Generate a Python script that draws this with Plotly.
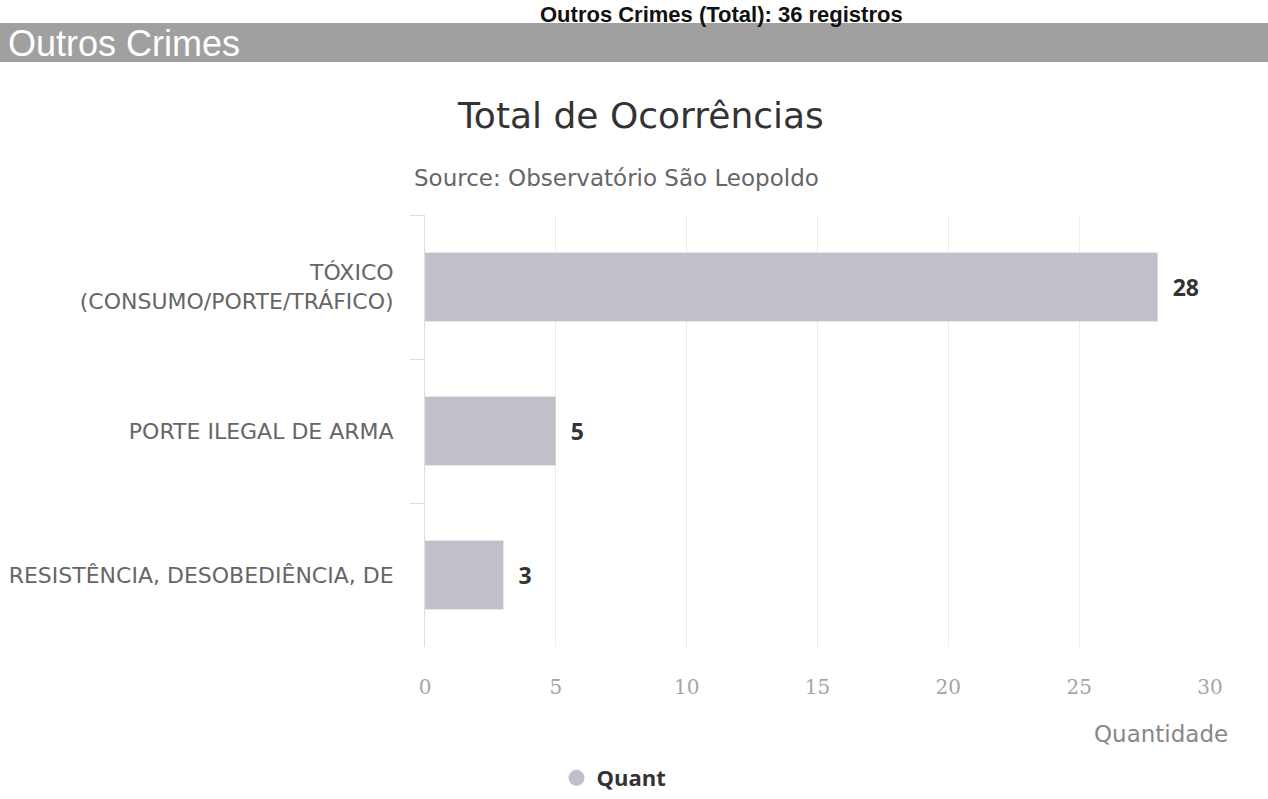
"""Outros Crimes - total de ocorrências (horizontal bar chart)."""

import plotly.graph_objects as go

categorias = [
    "TÓXICO<br>(CONSUMO/PORTE/TRÁFICO)",
    "PORTE ILEGAL DE ARMA",
    "RESISTÊNCIA, DESOBEDIÊNCIA, DE",
]
quantidades = [28, 5, 3]
x_ticks = [0, 5, 10, 15, 20, 25, 30]

W, H = 1268, 799
L, R, T, B = 425, 58, 215, 152
PW, PH = W - L - R, H - T - B


def px_x(x):
    return (x - L) / PW


def px_y(y):
    return (H - B - y) / PH


BAR = "#bfc0c8"
NBSP = "\u00a0"

fig = go.Figure()
fig.add_trace(
    go.Bar(
        x=quantidades,
        y=categorias,
        orientation="h",
        marker={"color": BAR},
        text=quantidades,
        textposition="outside",
        textfont={"family": "Open Sans", "size": 23, "color": "#333333"},
        texttemplate=NBSP * 2 + "<b>%{text}</b>",
        cliponaxis=False,
        showlegend=False,
        name="Quant",
    )
)
# legend entry with a round symbol, like the original
fig.add_trace(
    go.Scatter(
        x=[None],
        y=[None],
        mode="markers",
        marker={"symbol": "circle", "size": 18, "color": BAR},
        name="<b>Quant</b>",
    )
)

fig.update_layout(
    width=W,
    height=H,
    margin={"l": L, "r": R, "t": T, "b": B, "autoexpand": False},
    paper_bgcolor="white",
    plot_bgcolor="white",
    bargap=0.52,
    font={"family": "Open Sans", "color": "#666666"},
    showlegend=True,
    legend={
        "orientation": "h",
        "x": px_x(614),
        "xanchor": "center",
        "y": px_y(778),
        "yanchor": "middle",
        "font": {"family": "Open Sans", "size": 22, "color": "#333333"},
    },
    xaxis={
        "range": [0, 30],
        "tickvals": x_ticks,
        "showgrid": True,
        "gridcolor": "#ededed",
        "zeroline": False,
        "showline": False,
        "ticklabelstandoff": 26,
        "tickfont": {"family": "DejaVu Serif", "size": 20, "color": "#a5a5a5"},
    },
    yaxis={
        "autorange": "reversed",
        "showline": True,
        "linecolor": "#dddddd",
        "ticks": "outside",
        "tickson": "boundaries",
        "ticklen": 14,
        "tickcolor": "#dddddd",
        "ticklabelstandoff": 26,
        "tickfont": {"family": "DejaVu Sans", "size": 22, "color": "#666666"},
    },
    shapes=[
        {
            "type": "rect",
            "xref": "paper",
            "yref": "paper",
            "x0": px_x(0),
            "x1": px_x(W),
            "y0": px_y(62),
            "y1": px_y(23),
            "fillcolor": "#a0a0a0",
            "line": {"width": 0},
            "layer": "below",
        }
    ],
    annotations=[
        {
            "text": "<b>Outros Crimes (Total): 36 registros</b>",
            "xref": "paper",
            "yref": "paper",
            "x": px_x(905),
            "y": px_y(0),
            "xanchor": "right",
            "yanchor": "top",
            "showarrow": False,
            "font": {"family": "Liberation Sans", "size": 22, "color": "#111111"},
        },
        {
            "text": "Outros Crimes",
            "xref": "paper",
            "yref": "paper",
            "x": px_x(6),
            "y": px_y(43),
            "xanchor": "left",
            "yanchor": "middle",
            "showarrow": False,
            "font": {"family": "Liberation Sans", "size": 36, "color": "white"},
        },
        {
            "text": "Total de Ocorrências",
            "xref": "paper",
            "yref": "paper",
            "x": px_x(640),
            "y": px_y(116),
            "xanchor": "center",
            "yanchor": "middle",
            "showarrow": False,
            "font": {"family": "DejaVu Sans", "size": 36, "color": "#333333"},
        },
        {
            "text": "Source: Observatório São Leopoldo",
            "xref": "paper",
            "yref": "paper",
            "x": px_x(616),
            "y": px_y(178),
            "xanchor": "center",
            "yanchor": "middle",
            "showarrow": False,
            "font": {"family": "DejaVu Sans", "size": 23, "color": "#666666"},
        },
        {
            "text": "Quantidade",
            "xref": "paper",
            "yref": "paper",
            "x": px_x(1230),
            "y": px_y(734),
            "xanchor": "right",
            "yanchor": "middle",
            "showarrow": False,
            "font": {"family": "DejaVu Sans", "size": 23, "color": "#888888"},
        },
    ],
)

fig.write_html(
    "out.html",
    config={"displayModeBar": False},
    post_script="document.body.style.margin = '0';",
)
